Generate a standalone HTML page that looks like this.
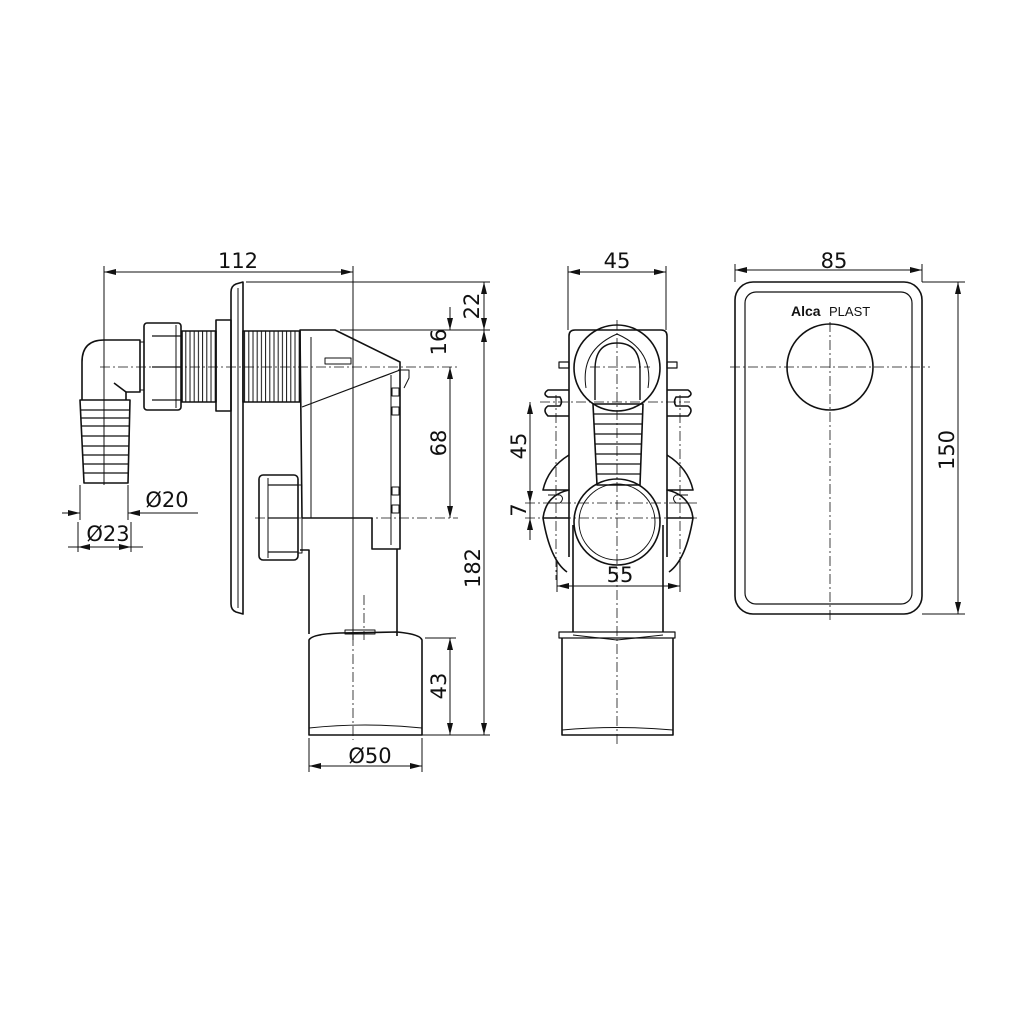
<!DOCTYPE html>
<html><head><meta charset="utf-8"><style>
html,body{margin:0;padding:0;background:#fff}
svg{display:block}
text{font-family:"DejaVu Sans","Liberation Sans",sans-serif;fill:#111}
</style></head><body>
<svg width="1024" height="1024" viewBox="0 0 1024 1024" xmlns="http://www.w3.org/2000/svg">
<defs>
<pattern id="thr" width="4.2" height="10" patternUnits="userSpaceOnUse"><line x1="1" y1="0" x2="1" y2="10" stroke="#111" stroke-width="1"/></pattern>
<marker id="a" markerWidth="12" markerHeight="6" refX="12" refY="3" orient="auto-start-reverse" markerUnits="userSpaceOnUse"><path d="M0,0 L12,3 L0,6 z" fill="#111"/></marker>
</defs>
<g fill="none" stroke="#111" stroke-width="1">
<!-- extension lines -->
<line x1="104" y1="266" x2="104" y2="485"/>
<line x1="353" y1="266" x2="353" y2="640"/>
<line x1="246" y1="282" x2="490" y2="282"/>
<line x1="340" y1="330" x2="490" y2="330"/>
<line x1="425" y1="638" x2="456" y2="638"/>
<line x1="422" y1="735" x2="490" y2="735"/>
<line x1="309" y1="738" x2="309" y2="772"/>
<line x1="422" y1="738" x2="422" y2="772"/>
<line x1="80" y1="485" x2="80" y2="520"/>
<line x1="128" y1="485" x2="128" y2="520"/>
<line x1="78" y1="522" x2="78" y2="552"/>
<line x1="131" y1="522" x2="131" y2="552"/>
<line x1="568" y1="266" x2="568" y2="330"/>
<line x1="666" y1="266" x2="666" y2="330"/>
<line x1="735" y1="264" x2="735" y2="282"/>
<line x1="922" y1="264" x2="922" y2="282"/>
<line x1="922" y1="282" x2="965" y2="282"/>
<line x1="922" y1="614" x2="965" y2="614"/>
<line x1="557" y1="560" x2="557" y2="592"/>
<line x1="680" y1="560" x2="680" y2="592"/>
<!-- dimension lines -->
<line x1="104" y1="272" x2="353" y2="272" marker-start="url(#a)" marker-end="url(#a)"/>
<line x1="484" y1="282" x2="484" y2="330" marker-start="url(#a)" marker-end="url(#a)"/>
<line x1="450" y1="307" x2="450" y2="330" marker-end="url(#a)"/>
<line x1="450" y1="367" x2="450" y2="518" marker-start="url(#a)" marker-end="url(#a)"/>
<line x1="484" y1="330" x2="484" y2="735" marker-start="url(#a)" marker-end="url(#a)"/>
<line x1="450" y1="638" x2="450" y2="735" marker-start="url(#a)" marker-end="url(#a)"/>
<line x1="309" y1="766" x2="422" y2="766" marker-start="url(#a)" marker-end="url(#a)"/>
<line x1="62" y1="513" x2="80" y2="513" marker-end="url(#a)"/>
<line x1="198" y1="513" x2="128" y2="513" marker-end="url(#a)"/>
<line x1="68" y1="547" x2="78" y2="547"/>
<line x1="78" y1="547" x2="131" y2="547" marker-start="url(#a)" marker-end="url(#a)"/>
<line x1="131" y1="547" x2="143" y2="547"/>
<line x1="568" y1="272" x2="666" y2="272" marker-start="url(#a)" marker-end="url(#a)"/>
<line x1="530" y1="402" x2="530" y2="503" marker-start="url(#a)" marker-end="url(#a)"/>
<line x1="530" y1="503" x2="530" y2="518"/>
<line x1="530" y1="518" x2="530" y2="540" marker-start="url(#a)"/>
<line x1="557" y1="586" x2="680" y2="586" marker-start="url(#a)" marker-end="url(#a)"/>
<line x1="735" y1="270" x2="922" y2="270" marker-start="url(#a)" marker-end="url(#a)"/>
<line x1="958" y1="282" x2="958" y2="614" marker-start="url(#a)" marker-end="url(#a)"/>
<!-- center lines -->
<g stroke-dasharray="10,3,2,3" stroke-width="0.8">
<line x1="100" y1="367" x2="458" y2="367"/>
<line x1="255" y1="518" x2="458" y2="518"/>
<line x1="104" y1="340" x2="104" y2="485"/>
<line x1="353" y1="330" x2="353" y2="740"/>
<line x1="364" y1="595" x2="364" y2="640"/>
<line x1="617" y1="320" x2="617" y2="745"/>
<line x1="540" y1="402" x2="690" y2="402"/>
<line x1="525" y1="503" x2="700" y2="503"/>
<line x1="525" y1="518" x2="700" y2="518"/>
<line x1="590" y1="367" x2="650" y2="367"/>
<line x1="556" y1="395" x2="556" y2="580"/>
<line x1="680" y1="395" x2="680" y2="580"/>
<line x1="730" y1="367" x2="930" y2="367"/>
<line x1="830" y1="322" x2="830" y2="620"/>
</g>
</g>
<g fill="none" stroke="#111" stroke-width="1.6" stroke-linejoin="round">
<!-- LEFT VIEW -->
<!-- elbow -->
<path d="M82,400 L82,362 Q82,340 104,340 L140,340 L140,392 L126,392 L126,400"/>
<path d="M114,383 L126,392"/>
<rect x="140" y="342" width="4" height="48" stroke-width="1"/>
<!-- hose ribs -->
<path d="M80,400 L130,400 L128,483 L84,483 Z"/>
<g stroke-width="1.2"><line x1="80" y1="410" x2="130" y2="410"/><line x1="81" y1="418" x2="130" y2="418"/><line x1="81" y1="426" x2="129" y2="426"/><line x1="81" y1="436" x2="129" y2="436"/><line x1="82" y1="446" x2="129" y2="446"/><line x1="82" y1="455" x2="128" y2="455"/><line x1="83" y1="464" x2="128" y2="464"/><line x1="83" y1="473" x2="128" y2="473"/></g>
<!-- nut -->
<rect x="144" y="323" width="37" height="87" rx="3"/>
<line x1="176" y1="325" x2="176" y2="408" stroke-width="1"/>
<path d="M181,336 L152,336 M181,400 L152,400 M181,367 L152,367" stroke-width="1.2"/>
<!-- threads -->
<rect x="182" y="331" width="34" height="71" fill="url(#thr)"/>
<rect x="216" y="320" width="15" height="91"/>
<rect x="243" y="331" width="57" height="71" fill="url(#thr)"/>
<!-- plate -->
<path d="M243,282 L236,284 Q231,286 231,292 L231,604 Q231,610 236,612 L243,614 Z"/>
<line x1="238" y1="288" x2="238" y2="608" stroke-width="1"/>
<!-- body -->
<path d="M300,330 L335,330 L400,362 L400,549 L372,549 L372,518 L302,518 Z"/>
<line x1="311" y1="337" x2="311" y2="518" stroke-width="1"/>
<line x1="302" y1="407" x2="400" y2="370" stroke-width="1.2"/>
<rect x="325" y="358" width="26" height="6" stroke-width="1"/>
<path d="M398,370 L409,370 L409,378 L404,388" stroke-width="1"/>
<path d="M391,375 L391,545" stroke-width="1"/>
<rect x="392" y="388" width="7" height="8" stroke-width="1"/><rect x="392" y="407" width="7" height="8" stroke-width="1"/>
<rect x="392" y="487" width="7" height="8" stroke-width="1"/><rect x="392" y="505" width="7" height="8" stroke-width="1"/>
<!-- lower pipe -->
<path d="M300,550 L309,550 L309,634 M397,549 L397,636"/>
<path d="M309,640 Q312,634 340,633 L397,632 Q420,634 422,640 L422,735 L309,735 Z"/>
<rect x="345" y="630" width="30" height="4" stroke-width="1"/>
<path d="M309,728 Q365,722 422,728" stroke-width="1"/>
<!-- side nut -->
<rect x="259" y="475" width="39" height="85" rx="4"/>
<line x1="268" y1="478" x2="268" y2="558" stroke-width="1"/>
<path d="M298,485 L268,485 M298,552 L268,552 M298,518 L268,518" stroke-width="1.2"/>
<rect x="298" y="485" width="4" height="68" stroke-width="1"/>

<!-- MIDDLE VIEW -->
<path d="M575,330 L661,330 Q667,330 667,336 L667,557 M569,557 L569,336 Q569,330 575,330"/>
<circle cx="617" cy="368" r="43"/>
<path d="M595,400 L595,370 Q595,343 617,343 Q640,343 640,370 L640,400" stroke-width="1.4"/>
<path d="M586,388 Q580,350 617,334 M648,388 Q654,350 617,334" stroke-width="1"/>
<rect x="559" y="362" width="10" height="6" stroke-width="1.2"/><rect x="667" y="362" width="10" height="6" stroke-width="1.2"/>
<!-- hose -->
<path d="M593,404 L643,404 L640,485 L597,485 Z"/>
<g stroke-width="1.2"><line x1="593" y1="414" x2="643" y2="414"/><line x1="594" y1="424" x2="642" y2="424"/><line x1="594" y1="434" x2="642" y2="434"/><line x1="595" y1="444" x2="642" y2="444"/><line x1="595" y1="454" x2="641" y2="454"/><line x1="596" y1="464" x2="641" y2="464"/><line x1="596" y1="474" x2="640" y2="474"/></g>
<!-- lower circle -->
<circle cx="617" cy="522" r="43"/>
<circle cx="617" cy="522" r="38" stroke-width="1"/>
<!-- forks -->
<path d="M569,390 L548,390 Q542,394 548,397 L560,397 Q563,402 560,406 L548,406 Q542,410 548,416 L569,416"/>
<path d="M667,390 L688,390 Q694,394 688,397 L676,397 Q673,402 676,406 L688,406 Q694,410 688,416 L667,416"/>
<!-- wings -->
<path d="M569,455 Q548,468 543,490 L569,490 Q546,495 543,518 L569,518 M543,518 Q550,560 567,572"/>
<path d="M667,455 Q688,468 693,490 L667,490 Q690,495 693,518 L667,518 M693,518 Q686,560 669,572"/>
<path d="M548,495 L560,495 Q565,498 560,503 L548,503" stroke-width="1"/>
<path d="M688,495 L676,495 Q671,498 676,503 L688,503" stroke-width="1"/>
<!-- lower pipe -->
<path d="M573,525 L573,632 M663,525 L663,632"/>
<path d="M559,632 L675,632 L675,638 L559,638 Z" stroke-width="1.2"/>
<path d="M562,638 L562,735 L673,735 L673,638"/>
<path d="M573,635 L617,640 L663,635" stroke-width="1"/>
<path d="M562,730 Q617,725 673,730" stroke-width="1"/>

<!-- RIGHT VIEW -->
<rect x="735" y="282" width="187" height="332" rx="18"/>
<rect x="745" y="292" width="167" height="312" rx="11" stroke-width="1.2"/>
<circle cx="830" cy="367" r="43"/>
</g>
<text x="791" y="316" font-size="14" font-weight="bold" style="font-family:'Liberation Sans',sans-serif">Alca</text>
<text x="829" y="316" font-size="13" style="font-family:'Liberation Sans',sans-serif">PLAST</text>
<g font-size="21">
<text x="238" y="268" text-anchor="middle">112</text>
<text x="617" y="268" text-anchor="middle">45</text>
<text x="834" y="268" text-anchor="middle">85</text>
<text x="370" y="763" text-anchor="middle">Ø50</text>
<text x="167" y="507" text-anchor="middle">Ø20</text>
<text x="108" y="541" text-anchor="middle">Ø23</text>
<text x="620" y="582" text-anchor="middle">55</text>
<text transform="translate(479,306) rotate(-90)" text-anchor="middle">22</text>
<text transform="translate(446,342) rotate(-90)" text-anchor="middle">16</text>
<text transform="translate(446,443) rotate(-90)" text-anchor="middle">68</text>
<text transform="translate(480,568) rotate(-90)" text-anchor="middle">182</text>
<text transform="translate(446,686) rotate(-90)" text-anchor="middle">43</text>
<text transform="translate(526,446) rotate(-90)" text-anchor="middle">45</text>
<text transform="translate(526,510) rotate(-90)" text-anchor="middle">7</text>
<text transform="translate(954,450) rotate(-90)" text-anchor="middle">150</text>
</g>
</svg>
</body></html>
